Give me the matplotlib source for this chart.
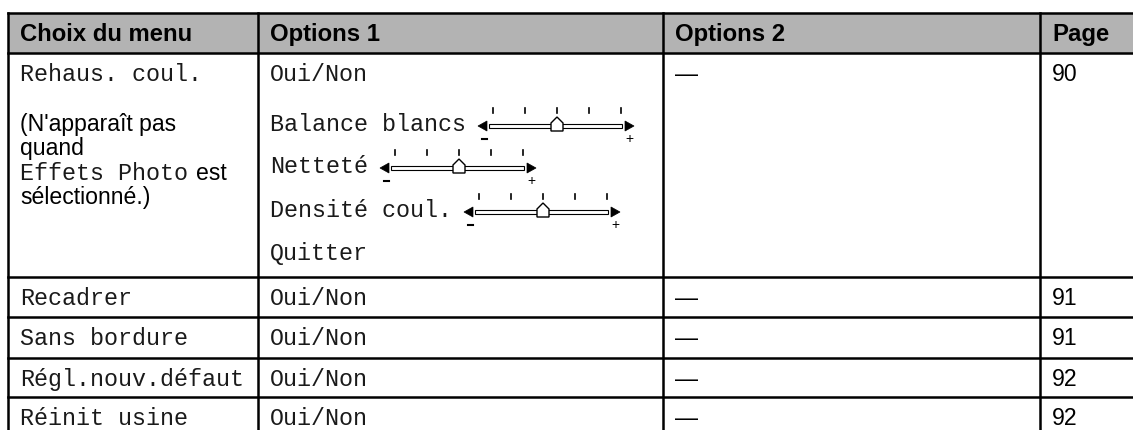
import matplotlib
matplotlib.use("Agg")
import matplotlib.pyplot as plt
from matplotlib.patches import Rectangle, Polygon

# ---------------- data ----------------
columns = ["Choix du menu", "Options 1", "Options 2", "Page"]
menu_items = ["Rehaus. coul.", "Recadrer", "Sans bordure", "Régl.nouv.défaut", "Réinit usine"]
note_lines = ["(N'apparaît pas", "quand", None, "sélectionné.)"]
note_mono = "Effets Photo"
note_after = "est"
options1_first = ["Oui/Non", "Oui/Non", "Oui/Non", "Oui/Non", "Oui/Non"]
slider_labels = ["Balance blancs", "Netteté", "Densité coul."]
slider_levels = [2, 2, 2]          # knob position on a 5-step scale (0..4)
slider_steps = 5
quit_label = "Quitter"
options2 = ["—", "—", "—", "—", "—"]
pages = ["90", "91", "91", "92", "92"]

# ---------------- layout ----------------
W, H = 1133, 430
fig = plt.figure(figsize=(W / 100, H / 100), dpi=100)
ax = fig.add_axes([0, 0, 1, 1])
ax.set_xlim(0, W)
ax.set_ylim(H, 0)
ax.axis("off")

col_x = [8, 258, 663, 1040, 1140]
row_y = [13, 53, 277, 317, 358, 397, 440]
lw = 1.8
gray = "#b3b3b3"

SANS = "Liberation Sans"
MONO = "Liberation Mono"
fs_head = 17.2
fs_sans = 16.6
fs_mono = 16.8
mono_color = "#1a1a1a"

# header background
ax.add_patch(Rectangle((col_x[0], row_y[0]), col_x[-1] - col_x[0], row_y[1] - row_y[0],
                       facecolor=gray, edgecolor="none", zorder=0))
# grid lines
for y in row_y:
    ax.plot([col_x[0], col_x[-1]], [y, y], color="black", lw=lw, solid_capstyle="projecting", zorder=3)
for x in col_x:
    ax.plot([x, x], [row_y[0], row_y[-1]], color="black", lw=lw, solid_capstyle="projecting", zorder=3)

pad = 12
base_off = 28

# header
for i, c in enumerate(columns):
    ax.text(col_x[i] + pad, row_y[0] + base_off, c, fontsize=fs_head, fontweight="bold",
            family=SANS, va="baseline", ha="left")

# menu column and others
for r in range(5):
    top = row_y[r + 1]
    ax.text(col_x[0] + pad, top + base_off, menu_items[r], fontsize=fs_mono, family=MONO,
            color=mono_color, va="baseline", ha="left")
    ax.text(col_x[1] + pad, top + base_off, options1_first[r], fontsize=fs_mono, family=MONO,
            color=mono_color, va="baseline", ha="left")
    ax.text(col_x[2] + pad, top + base_off, options2[r], fontsize=fs_sans, family=SANS,
            va="baseline", ha="left")
    ax.text(col_x[3] + pad, top + base_off, pages[r], fontsize=fs_sans, family=SANS,
            va="baseline", ha="left")

fig.canvas.draw()
renderer = fig.canvas.get_renderer()
inv = ax.transData.inverted()

def right_edge(t):
    bb = t.get_window_extent(renderer)
    return inv.transform((bb.x1, bb.y0))[0]

# note lines in first column
note_base = [131, 155, 180, 204]
for i, line in enumerate(note_lines):
    if line is not None:
        ax.text(col_x[0] + pad, note_base[i], line, fontsize=fs_sans, family=SANS,
                va="baseline", ha="left")
    else:
        t = ax.text(col_x[0] + pad, note_base[i], note_mono, fontsize=fs_mono, family=MONO,
                    color=mono_color, va="baseline", ha="left")
        x_end = right_edge(t)
        ax.text(x_end + 8, note_base[i], note_after, fontsize=fs_sans, family=SANS,
                va="baseline", ha="left")

# sliders
slider_base = [131, 173, 217]

def draw_slider(x0, yb, level):
    yr = yb - 5          # rail center
    # left arrow
    ax.add_patch(Polygon([[x0, yr], [x0 + 9, yr - 5], [x0 + 9, yr + 5]], closed=True,
                         facecolor="black", edgecolor="black", lw=0.5, zorder=4))
    # right arrow
    ax.add_patch(Polygon([[x0 + 156, yr], [x0 + 147, yr - 5], [x0 + 147, yr + 5]], closed=True,
                         facecolor="black", edgecolor="black", lw=0.5, zorder=4))
    # rail
    ax.add_patch(Rectangle((x0 + 11, yr - 2), 133, 4, facecolor="white", edgecolor="black",
                           lw=0.8, zorder=4))
    # ticks
    tick_x = [x0 + 15 + k * 32 for k in range(slider_steps)]
    for tx in tick_x:
        ax.plot([tx, tx], [yr - 18, yr - 13], color="black", lw=1.2, zorder=4)
    # knob
    kx = tick_x[level]
    ax.add_patch(Polygon([[kx - 6, yr + 5], [kx + 6, yr + 5], [kx + 6, yr - 3],
                          [kx, yr - 9], [kx - 6, yr - 3]], closed=True,
                         facecolor="white", edgecolor="black", lw=1.0, zorder=5))
    # minus / plus
    ax.plot([x0 + 4, x0 + 9], [yr + 13, yr + 13], color="black", lw=1.5, zorder=4)
    ax.text(x0 + 151, yr + 13, "+", fontsize=10, family=SANS, ha="center", va="center")

for lab, lev, yb in zip(slider_labels, slider_levels, slider_base):
    t = ax.text(col_x[1] + pad, yb, lab, fontsize=fs_mono, family=MONO, color=mono_color,
                va="baseline", ha="left")
    x_end = right_edge(t)
    draw_slider(x_end + 12, yb, lev)

ax.text(col_x[1] + pad, 260, quit_label, fontsize=fs_mono, family=MONO, color=mono_color,
        va="baseline", ha="left")

fig.savefig("out.png", dpi=100)
